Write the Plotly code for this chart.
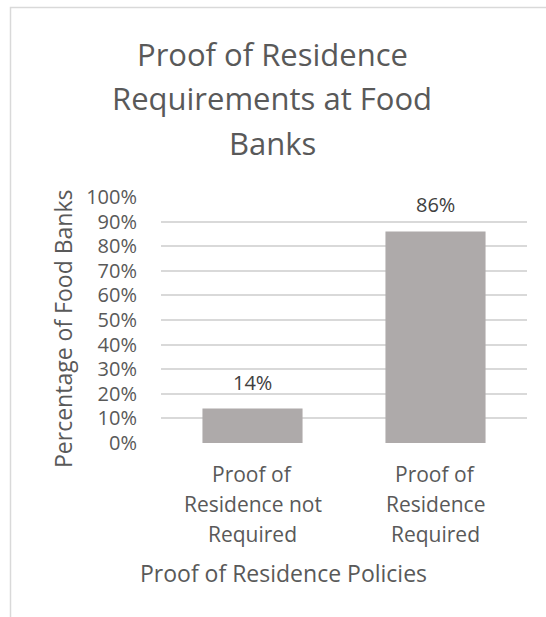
import plotly.graph_objects as go

# Survey results: share of food banks by proof-of-residence policy
categories = ["Proof of Residence not Required", "Proof of Residence Required"]
category_lines = [["Proof of", "Residence not", "Required"],
                  ["Proof of", "Residence", "Required"]]
shares = [14, 86]
y_ticks = list(range(0, 101, 10))
y_tick_labels = [f"{v}%" for v in y_ticks]
title_lines = ["Proof of Residence", "Requirements at Food", "Banks"]

FONT = "Open Sans"
TXT = "#595959"
W, H = 546, 617
L, R, T, B = 161, 19, 197, 174
plot_w = W - L - R
plot_h = H - T - B


def px_x(px):
    return (px - L) / plot_w


def px_y(py):
    return (H - B - py) / plot_h


fig = go.Figure(
    go.Bar(
        x=categories,
        y=shares,
        marker=dict(color="#AEAAAA", line=dict(width=0)),
        hoverinfo="skip",
    )
)

annotations = []

# Chart title, one line per annotation
for line, py in zip(title_lines, [54, 98, 143]):
    annotations.append(dict(text=line, x=px_x(272), y=px_y(py), xref="paper", yref="paper",
                            xanchor="center", yanchor="middle", showarrow=False,
                            font=dict(family=FONT, size=31, color=TXT)))

# Value labels above bars
for cat, v in zip(categories, shares):
    annotations.append(dict(text=f"{v}%", x=cat, y=v, xref="x", yref="y",
                            xanchor="center", yanchor="bottom", yshift=11, showarrow=False,
                            font=dict(family=FONT, size=20, color="#404040")))

# Category labels, wrapped onto three lines
for cat, lines in zip(categories, category_lines):
    for i, line in enumerate(lines):
        annotations.append(dict(text=line, x=cat, y=px_y(474 + 30 * i), xref="x", yref="paper",
                                xanchor="center", yanchor="middle", showarrow=False,
                                font=dict(family=FONT, size=21, color=TXT)))

# Axis titles
annotations.append(dict(text="Proof of Residence Policies", x=px_x(283), y=px_y(573),
                        xref="paper", yref="paper", xanchor="center", yanchor="middle",
                        showarrow=False, font=dict(family=FONT, size=23, color=TXT)))
annotations.append(dict(text="Percentage of Food Banks", x=px_x(63), y=px_y(329),
                        xref="paper", yref="paper", xanchor="center", yanchor="middle",
                        textangle=-90, showarrow=False,
                        font=dict(family=FONT, size=23, color=TXT)))

fig.update_layout(
    width=W, height=H,
    margin=dict(l=L, r=R, t=T, b=B),
    paper_bgcolor="white", plot_bgcolor="white",
    bargap=0.453,
    showlegend=False,
    annotations=annotations,
    shapes=[dict(type="rect", xref="paper", yref="paper",
                 x0=px_x(10.5), x1=px_x(560), y0=px_y(640), y1=px_y(7.5),
                 line=dict(color="#D9D9D9", width=1.5), fillcolor="rgba(0,0,0,0)",
                 layer="below")],
    xaxis=dict(showticklabels=False, showgrid=False, zeroline=False, showline=False,
               ticks=""),
    yaxis=dict(range=[0, 100], tickvals=y_ticks, ticktext=y_tick_labels,
               showgrid=True, gridcolor="#D9D9D9", gridwidth=1.5, zeroline=False,
               showline=False, ticks="", ticklabelstandoff=23,
               tickfont=dict(family=FONT, size=20, color=TXT)),
)

fig.write_html("out.html")
